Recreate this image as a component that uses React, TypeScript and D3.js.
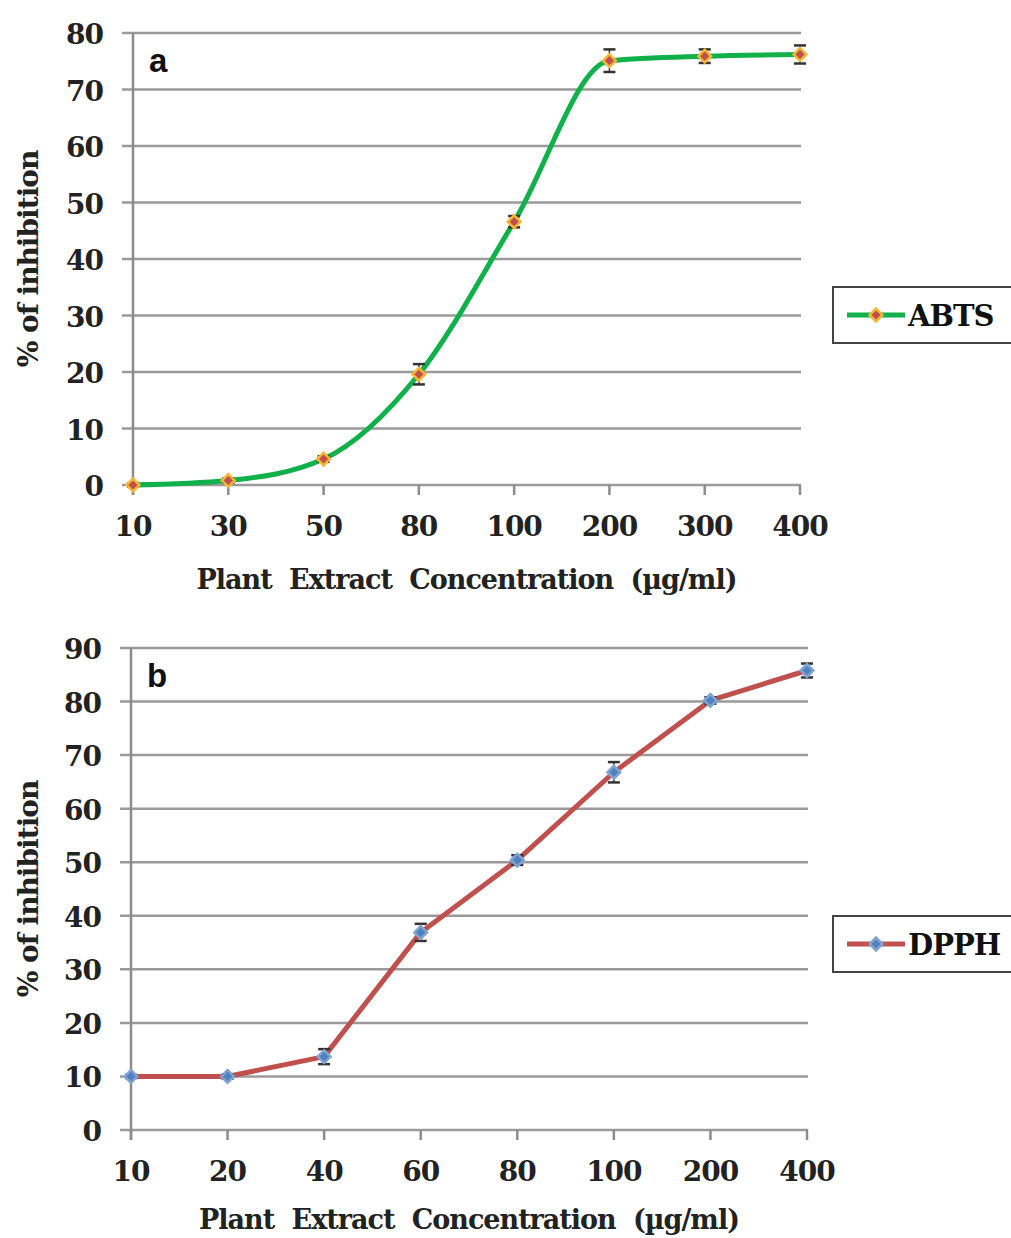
import React, { useEffect, useRef } from "react";
import * as d3 from "d3";

// panel a: ABTS
const abtsConc = ["10", "30", "50", "80", "100", "200", "300", "400"];
const abtsValues = [0, 0.8, 4.6, 19.6, 46.6, 75.1, 75.9, 76.2];
const abtsErrors = [0.3, 0.4, 0.5, 1.8, 1.0, 2.0, 1.2, 1.6];
const abtsTicks = [0, 10, 20, 30, 40, 50, 60, 70, 80];

// panel b: DPPH
const dpphConc = ["10", "20", "40", "60", "80", "100", "200", "400"];
const dpphValues = [10, 10, 13.7, 36.9, 50.4, 66.8, 80.2, 85.8];
const dpphErrors = [0.3, 0.4, 1.4, 1.6, 0.9, 1.9, 0.6, 1.3];
const dpphTicks = [0, 10, 20, 30, 40, 50, 60, 70, 80, 90];

const serif = "'DejaVu Serif', serif";
const sans = "'Liberation Sans', Arial, sans-serif";

type PanelProps = {
  letter: string;
  name: string;
  categories: string[];
  values: number[];
  errors: number[];
  ticks: number[];
  left: number;
  right: number;
  top: number;
  bottom: number;
  lineColor: string;
  markerFill: string;
  markerStroke: string;
  smooth: boolean;
  legendY: number;
  titleY: number;
};

function drawPanel(svg: d3.Selection<SVGSVGElement, unknown, null, undefined>, p: PanelProps) {
  const g = svg.append("g");
  const x = d3.scalePoint().domain(p.categories).range([p.left, p.right]);
  const y = d3
    .scaleLinear()
    .domain([0, p.ticks[p.ticks.length - 1]])
    .range([p.bottom, p.top]);

  // gridlines (they also act as the y tick marks)
  g.selectAll("line.grid")
    .data(p.ticks)
    .enter()
    .append("line")
    .attr("x1", p.left - 11)
    .attr("x2", p.right + 1)
    .attr("y1", (d) => y(d))
    .attr("y2", (d) => y(d))
    .attr("stroke", "#9a9a9a")
    .attr("stroke-width", 2.5);

  // y axis line
  g.append("line")
    .attr("x1", p.left)
    .attr("x2", p.left)
    .attr("y1", p.top)
    .attr("y2", p.bottom + 10)
    .attr("stroke", "#8c8c8c")
    .attr("stroke-width", 2.5);

  // x tick marks
  g.selectAll("line.xt")
    .data(p.categories)
    .enter()
    .append("line")
    .attr("x1", (d) => x(d)!)
    .attr("x2", (d) => x(d)!)
    .attr("y1", p.bottom)
    .attr("y2", p.bottom + 10)
    .attr("stroke", "#8c8c8c")
    .attr("stroke-width", 2.5);

  // y tick labels
  g.selectAll("text.yl")
    .data(p.ticks)
    .enter()
    .append("text")
    .attr("x", p.left - 30)
    .attr("y", (d) => y(d) + 11)
    .attr("text-anchor", "end")
    .style("font-family", serif)
    .style("font-weight", "bold")
    .style("font-size", "28px")
    .style("letter-spacing", "-1px")
    .style("fill", "#222")
    .text((d) => d);

  // x tick labels
  g.selectAll("text.xl")
    .data(p.categories)
    .enter()
    .append("text")
    .attr("x", (d) => x(d)!)
    .attr("y", p.bottom + 51)
    .attr("text-anchor", "middle")
    .style("font-family", serif)
    .style("font-weight", "bold")
    .style("font-size", "28px")
    .style("letter-spacing", "-1px")
    .style("fill", "#222")
    .text((d) => d);

  // x axis title
  g.append("text")
    .attr("x", (p.left + p.right) / 2)
    .attr("y", p.titleY)
    .attr("text-anchor", "middle")
    .style("font-family", serif)
    .style("font-weight", "bold")
    .style("font-size", "27px")
    .style("letter-spacing", "-1px")
    .style("word-spacing", "9px")
    .style("fill", "#222")
    .text("Plant Extract Concentration (µg/ml)");

  // y axis title
  g.append("text")
    .attr("transform", `translate(38,${(p.top + p.bottom) / 2}) rotate(-90)`)
    .attr("text-anchor", "middle")
    .style("font-family", serif)
    .style("font-weight", "bold")
    .style("font-size", "28px")
    .style("letter-spacing", "-1px")
    .style("fill", "#222")
    .text("% of inhibition");

  // panel letter
  g.append("text")
    .attr("x", p.left + 16)
    .attr("y", p.top + 39)
    .style("font-family", sans)
    .style("font-weight", "bold")
    .style("font-size", "33px")
    .style("fill", "#111")
    .text(p.letter);

  // line
  const line = d3
    .line<number>()
    .x((_, i) => x(p.categories[i])!)
    .y((d) => y(d))
    .curve(p.smooth ? d3.curveMonotoneX : d3.curveLinear);

  g.append("path")
    .datum(p.values)
    .attr("d", line)
    .attr("fill", "none")
    .attr("stroke", p.lineColor)
    .attr("stroke-width", 5)
    .attr("stroke-linejoin", "round");

  // error bars
  const eb = g
    .selectAll("g.err")
    .data(p.values)
    .enter()
    .append("g")
    .attr("transform", (_, i) => `translate(${x(p.categories[i])},0)`);
  eb.append("line")
    .attr("x1", 0)
    .attr("x2", 0)
    .attr("y1", (d, i) => y(d + p.errors[i]))
    .attr("y2", (d, i) => y(d - p.errors[i]))
    .attr("stroke", "#333")
    .attr("stroke-width", 1.5);
  [1, -1].forEach((s) => {
    eb.append("line")
      .attr("x1", -6)
      .attr("x2", 6)
      .attr("y1", (d, i) => y(d + s * p.errors[i]))
      .attr("y2", (d, i) => y(d + s * p.errors[i]))
      .attr("stroke", "#333")
      .attr("stroke-width", 2.5);
  });

  // markers: square turned 45 degrees
  const marker = d3.symbol().type(d3.symbolSquare).size(81);
  g.selectAll("path.mk")
    .data(p.values)
    .enter()
    .append("path")
    .attr("d", marker)
    .attr("transform", (d, i) => `translate(${x(p.categories[i])},${y(d)}) rotate(45)`)
    .attr("fill", p.markerFill)
    .attr("stroke", p.markerStroke)
    .attr("stroke-width", 2.5);

  // legend
  const lg = g.append("g").attr("transform", `translate(833,${p.legendY})`);
  lg.append("rect")
    .attr("x", 0)
    .attr("y", 0)
    .attr("width", 200)
    .attr("height", 56)
    .attr("fill", "white")
    .attr("stroke", "#444")
    .attr("stroke-width", 2);
  lg.append("line")
    .attr("x1", 14)
    .attr("x2", 72)
    .attr("y1", 28)
    .attr("y2", 28)
    .attr("stroke", p.lineColor)
    .attr("stroke-width", 5);
  lg.append("path")
    .attr("d", marker)
    .attr("transform", "translate(43,28) rotate(45)")
    .attr("fill", p.markerFill)
    .attr("stroke", p.markerStroke)
    .attr("stroke-width", 2.5);
  lg.append("text")
    .attr("x", 75)
    .attr("y", 39)
    .style("font-family", serif)
    .style("font-weight", "bold")
    .style("font-size", "29px")
    .style("letter-spacing", "-1px")
    .style("fill", "#111")
    .text(p.name);
}

export default function App() {
  const ref = useRef<SVGSVGElement>(null);

  useEffect(() => {
    const svg = d3.select(ref.current!);
    svg.selectAll("*").remove();

    drawPanel(svg as any, {
      letter: "a",
      name: "ABTS",
      categories: abtsConc,
      values: abtsValues,
      errors: abtsErrors,
      ticks: abtsTicks,
      left: 133,
      right: 800,
      top: 33,
      bottom: 485,
      lineColor: "#10b04a",
      markerFill: "#c0504d",
      markerStroke: "#f7b633",
      smooth: true,
      legendY: 287,
      titleY: 589,
    });

    drawPanel(svg as any, {
      letter: "b",
      name: "DPPH",
      categories: dpphConc,
      values: dpphValues,
      errors: dpphErrors,
      ticks: dpphTicks,
      left: 131,
      right: 807,
      top: 648,
      bottom: 1130,
      lineColor: "#c0504d",
      markerFill: "#4f81bd",
      markerStroke: "#7fa3d3",
      smooth: false,
      legendY: 916,
      titleY: 1229,
    });
  }, []);

  return (
    <svg
      ref={ref}
      width={1011}
      height={1238}
      style={{ position: "absolute", left: 0, top: 0, background: "white" }}
    />
  );
}
